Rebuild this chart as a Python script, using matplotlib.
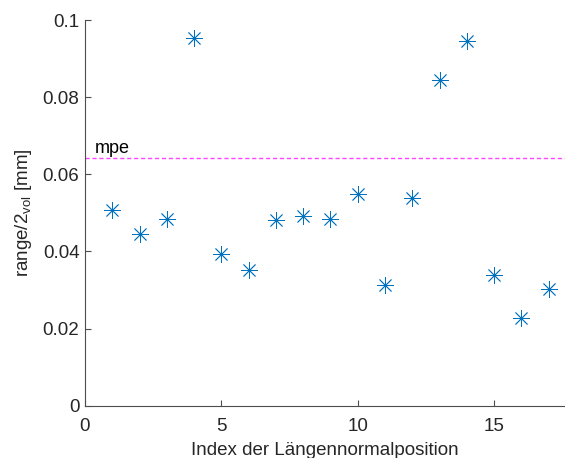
import matplotlib
matplotlib.use('Agg')
import matplotlib.pyplot as plt

# data
positions = list(range(1, 18))
half_range = [0.0507, 0.0445, 0.0484, 0.0953, 0.0393, 0.0352, 0.0482, 0.0492, 0.0484,
              0.0549, 0.0313, 0.0539, 0.0844, 0.0946, 0.0339, 0.0227, 0.0302]
mpe = 0.0642
x_ticks = [0, 5, 10, 15]
y_ticks = [0, 0.02, 0.04, 0.06, 0.08, 0.1]
y_tick_labels = ['0', '0.02', '0.04', '0.06', '0.08', '0.1']

plt.rcParams['font.family'] = ['Liberation Sans', 'DejaVu Sans']
plt.rcParams['mathtext.fontset'] = 'custom'
plt.rcParams['mathtext.rm'] = 'Liberation Sans'

fig = plt.figure(figsize=(5.65, 4.58), dpi=100)
ax = fig.add_axes([0.1504, 0.1142, 0.8496, 0.8421])

ax.plot(positions, half_range, linestyle='none', marker=(8, 2, 0), markersize=12,
        markeredgewidth=0.6, color='#0072BD')
ax.axhline(mpe, color='#FF44FF', linestyle=(0, (3, 2)), linewidth=1.0)
ax.text(0.35, mpe + 0.0002, 'mpe', fontsize=13, ha='left', va='bottom', color='black')

ax.set_xlim(0, 17.6)
ax.set_ylim(0, 0.1)
ax.set_xticks(x_ticks)
ax.set_yticks(y_ticks)
ax.set_yticklabels(y_tick_labels)

gray = '#262626'
ax.tick_params(direction='in', length=4, width=0.8, colors='#4D4D4D', labelsize=13.5,
               labelcolor=gray, pad=4)
ax.tick_params(axis='x', pad=9)
for s in ['top', 'right']:
    ax.spines[s].set_visible(False)
for s in ['left', 'bottom']:
    ax.spines[s].set_color('#4D4D4D')
    ax.spines[s].set_linewidth(0.8)

ax.set_xlabel('Index der Längennormalposition', fontsize=13.5, color=gray, labelpad=5)
ax.set_ylabel(r'range/2$_{\mathrm{vol}}$ [mm]', fontsize=13.5, color=gray, labelpad=6)

plt.savefig('out.png', dpi=100)
